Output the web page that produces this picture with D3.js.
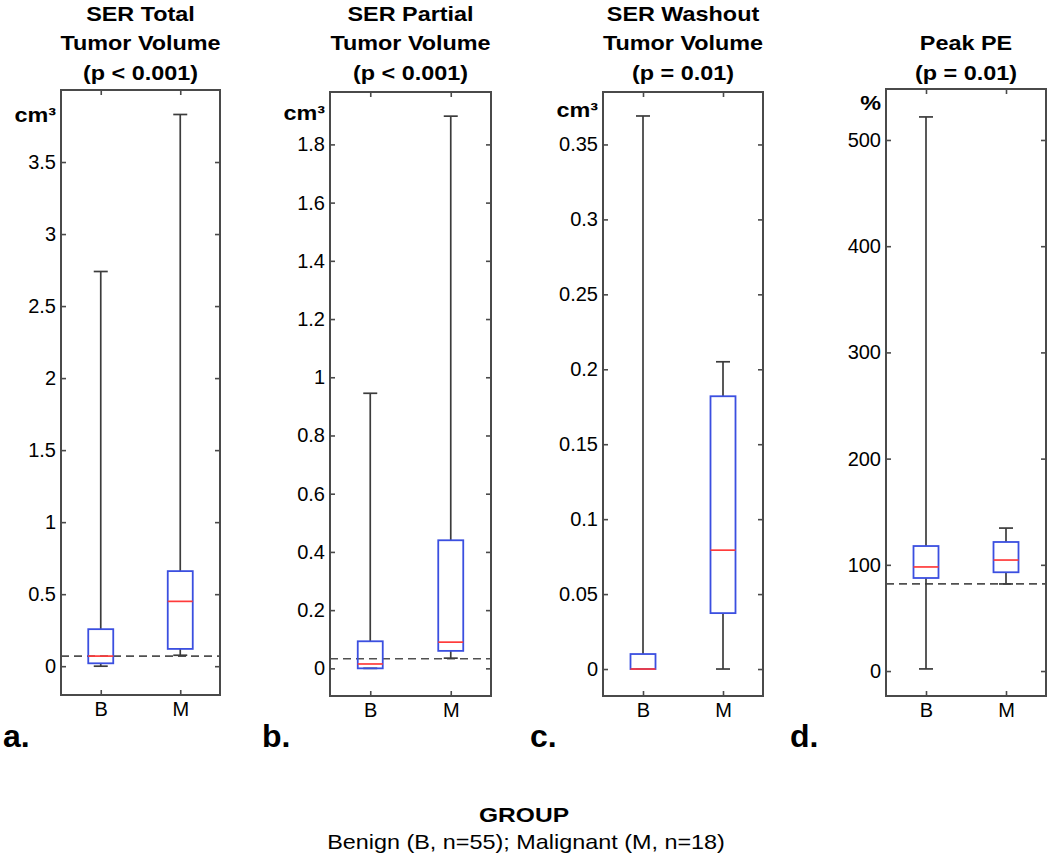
<!DOCTYPE html>
<html>
<head>
<meta charset="utf-8">
<script src="https://cdn.jsdelivr.net/npm/d3@7"></script>
<style>
  html, body { margin: 0; padding: 0; background: #ffffff; }
  svg { display: block; }
</style>
</head>
<body>
<script>
// ---------------- DATA ----------------
const groups = ["B", "M"];
// each array: [lower whisker, Q1, median, Q3, upper whisker]
const serTotalB    = [0.0,   0.02,   0.07,   0.257, 2.74];
const serTotalM    = [0.076, 0.12,   0.45,   0.66,  3.83];
const serPartialB  = [0.0,   0.0,    0.015,  0.093, 0.945];
const serPartialM  = [0.035, 0.06,   0.09,   0.44,  1.897];
const serWashoutB  = [0.0,   0.0,    0.0,    0.01,  0.369];
const serWashoutM  = [0.0,   0.0373, 0.0793, 0.182, 0.205];
const peakPeB      = [2,     87.6,   98,     117.7, 521.7];
const peakPeM      = [82,    93,     104.5,  121.5, 134.6];
// dashed reference (threshold) lines per panel
const thresholds = [0.07, 0.033, null, 82];
// tick labels
const ticksTotal   = [0, 0.5, 1, 1.5, 2, 2.5, 3, 3.5];
const ticksPartial = [0, 0.2, 0.4, 0.6, 0.8, 1, 1.2, 1.4, 1.6, 1.8];
const ticksWashout = [0, 0.05, 0.1, 0.15, 0.2, 0.25, 0.3, 0.35];
const ticksPeak    = [0, 100, 200, 300, 400, 500];
const titles = [
  ["SER Total", "Tumor Volume", "(p < 0.001)"],
  ["SER Partial", "Tumor Volume", "(p < 0.001)"],
  ["SER Washout", "Tumor Volume", "(p = 0.01)"],
  ["Peak PE", "(p = 0.01)"]
];
const units = ["cm³", "cm³", "cm³", "%"];
const letters = ["a.", "b.", "c.", "d."];
const axisLimits = [[-0.2, 4.0], [-0.095, 1.98], [-0.018, 0.385], [-23.5, 548]];
const xLabelTitle = "GROUP";
const xLabelSub = "Benign (B, n=55); Malignant (M, n=18)";

// ---------------- LAYOUT ----------------
const FONT = "'Liberation Sans', Arial, Helvetica, sans-serif";
const SX = 1.17; // horizontal stretch of the bold labels in the reference
const layout = [
  { left: 61,  right: 220,  top: 90, bottom: 695, unitY: 122, letterX: 3 },
  { left: 330, right: 491,  top: 92, bottom: 696, unitY: 120, letterX: 262 },
  { left: 603, right: 763,  top: 92, bottom: 696, unitY: 117, letterX: 530 },
  { left: 886, right: 1046, top: 89, bottom: 696, unitY: 110, letterX: 790 }
];
const series = [
  [serTotalB, serTotalM],
  [serPartialB, serPartialM],
  [serWashoutB, serWashoutM],
  [peakPeB, peakPeM]
];
const tickSets = [ticksTotal, ticksPartial, ticksWashout, ticksPeak];

const AXIS_COL = "#4a4a4a";
const WHISK_COL = "#3c3c3c";
const BOX_COL = "#3b4fe0";
const MED_COL = "#ff3b3b";

const svg = d3.select("body").append("svg")
  .attr("width", 1050).attr("height", 861)
  .style("font-family", FONT);
svg.append("rect").attr("width", 1050).attr("height", 861).attr("fill", "#fff");

function stretchedText(parent, x, y, str, size, weight, anchor, sx) {
  parent.append("g")
    .attr("transform", `translate(${x},${y}) scale(${sx},1)`)
    .append("text")
    .attr("x", 0).attr("y", 0)
    .attr("text-anchor", anchor)
    .attr("font-size", size)
    .attr("font-weight", weight)
    .attr("fill", "#000")
    .text(str);
}

layout.forEach((L, i) => {
  const g = svg.append("g");
  const y = d3.scaleLinear().domain(axisLimits[i]).range([L.bottom, L.top]);
  const x = d3.scalePoint().domain(groups).range([L.left, L.right]).padding(0.5);
  const fmt = d => String(d);

  // threshold dashed line
  if (thresholds[i] !== null) {
    g.append("line")
      .attr("x1", L.left).attr("x2", L.right)
      .attr("y1", y(thresholds[i])).attr("y2", y(thresholds[i]))
      .attr("stroke", "#505050").attr("stroke-width", 1.7)
      .attr("stroke-dasharray", "8,5");
  }

  // axes
  const left = g.append("g").attr("transform", `translate(${L.left},0)`)
    .call(d3.axisLeft(y).tickValues(tickSets[i]).tickSize(-5).tickPadding(5).tickFormat(fmt));
  const right = g.append("g").attr("transform", `translate(${L.right},0)`)
    .call(d3.axisRight(y).tickValues(tickSets[i]).tickSize(-5).tickFormat(""));
  const bottom = g.append("g").attr("transform", `translate(0,${L.bottom})`)
    .call(d3.axisBottom(x).tickSize(-5).tickPadding(7));
  const top = g.append("g").attr("transform", `translate(0,${L.top})`)
    .call(d3.axisTop(x).tickSize(-5).tickFormat(""));
  [left, right, bottom, top].forEach(a => {
    a.select(".domain").remove();
    a.attr("font-size", 20).attr("font-family", FONT).style("color", AXIS_COL);
    a.selectAll(".tick line").attr("stroke-width", 1.6);
    a.selectAll(".tick text").attr("fill", "#000");
  });

  // frame
  g.append("rect")
    .attr("x", L.left).attr("y", L.top)
    .attr("width", L.right - L.left).attr("height", L.bottom - L.top)
    .attr("fill", "none").attr("stroke", AXIS_COL).attr("stroke-width", 2);

  // boxes
  const halfBox = 12.5, halfCap = 7;
  groups.forEach((grp, j) => {
    const [lo, q1, med, q3, hi] = series[i][j];
    const cx = x(grp);
    const bg = g.append("g");
    bg.append("line").attr("x1", cx).attr("x2", cx).attr("y1", y(q3)).attr("y2", y(hi))
      .attr("stroke", WHISK_COL).attr("stroke-width", 1.7);
    bg.append("line").attr("x1", cx).attr("x2", cx).attr("y1", y(lo)).attr("y2", y(q1))
      .attr("stroke", WHISK_COL).attr("stroke-width", 1.7);
    bg.append("line").attr("x1", cx - halfCap).attr("x2", cx + halfCap).attr("y1", y(hi)).attr("y2", y(hi))
      .attr("stroke", WHISK_COL).attr("stroke-width", 1.7);
    bg.append("line").attr("x1", cx - halfCap).attr("x2", cx + halfCap).attr("y1", y(lo)).attr("y2", y(lo))
      .attr("stroke", WHISK_COL).attr("stroke-width", 1.7);
    bg.append("rect")
      .attr("x", cx - halfBox).attr("y", y(q3))
      .attr("width", 2 * halfBox).attr("height", Math.max(0.5, y(q1) - y(q3)))
      .attr("fill", "none").attr("stroke", BOX_COL).attr("stroke-width", 1.8);
    bg.append("line").attr("x1", cx - halfBox).attr("x2", cx + halfBox).attr("y1", y(med)).attr("y2", y(med))
      .attr("stroke", MED_COL).attr("stroke-width", 1.7);
  });

  // title
  const cx = (L.left + L.right) / 2;
  const baselines = titles[i].length === 3 ? [21, 50, 80] : [50, 80];
  titles[i].forEach((t, k) => stretchedText(svg, cx, baselines[k], t, 20, "bold", "middle", SX));

  // unit label
  stretchedText(svg, L.left - 5, L.unitY, units[i], 20, "bold", "end", SX);

  // panel letter
  svg.append("text").attr("x", L.letterX).attr("y", 747)
    .attr("font-size", 32).attr("font-weight", "bold").attr("fill", "#000")
    .text(letters[i]);
});

// bottom labels
stretchedText(svg, 524, 822, xLabelTitle, 21, "bold", "middle", SX);
stretchedText(svg, 526, 849, xLabelSub, 20, "normal", "middle", SX);
</script>
</body>
</html>
